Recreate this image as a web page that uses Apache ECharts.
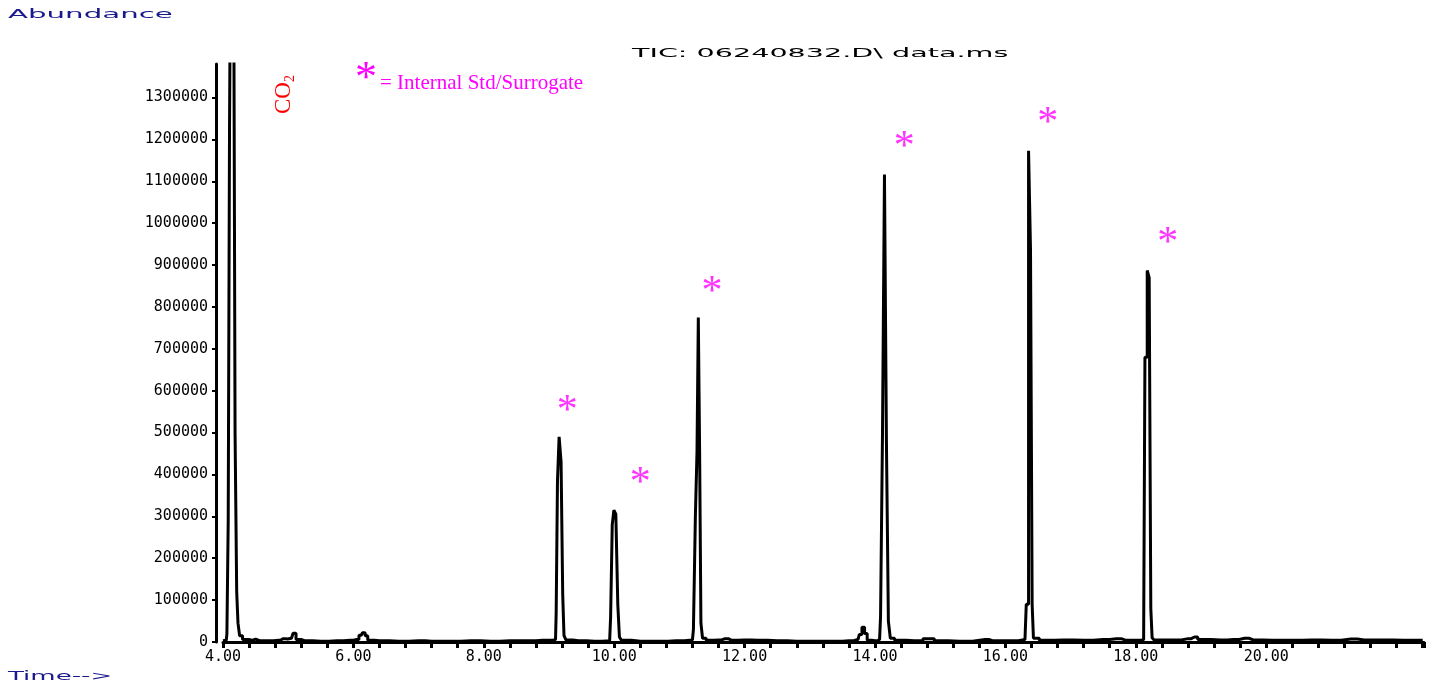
<!DOCTYPE html>
<html>
<head>
<meta charset="utf-8">
<script src="https://cdn.jsdelivr.net/npm/echarts@6/dist/echarts.min.js"></script>
<style>
html, body { margin: 0; padding: 0; background: #fff; }
#chart { width: 1434px; height: 687px; }
</style>
</head>
<body>
<div id="chart"></div>
<script>
// retention time (min) and abundance
var times = [
    4.00, 4.05, 4.07, 4.09, 4.11, 4.14, 4.17, 4.20, 4.22, 4.24, 4.27, 4.33, 4.45, 4.50, 4.56, 4.70,
    4.85, 4.92, 4.99, 5.05, 5.10, 5.14, 5.25, 5.50, 5.75, 5.95, 6.05, 6.12, 6.16, 6.20, 6.24, 6.40,
    6.70, 7.00, 7.20, 7.50, 7.80, 8.10, 8.40, 8.70, 8.90,
    9.06, 9.10, 9.12, 9.14, 9.17, 9.20, 9.22, 9.24, 9.28, 9.45, 9.70,
    9.93, 9.96, 9.98, 10.01, 10.04, 10.07, 10.09, 10.13, 10.40, 10.70, 10.95,
    11.20, 11.23, 11.26, 11.28, 11.30, 11.32, 11.34, 11.37, 11.45, 11.60, 11.70, 11.80, 12.00,
    12.20, 12.50, 12.80, 13.10, 13.40, 13.60, 13.74, 13.78, 13.82, 13.86, 13.90, 14.00,
    14.07, 14.10, 14.13, 14.16, 14.19, 14.22, 14.25, 14.35, 14.60, 14.87, 14.95, 15.30, 15.69, 15.80,
    16.10, 16.30, 16.34, 16.37, 16.40, 16.42, 16.44, 16.60, 16.90, 17.20, 17.50, 17.70, 17.85,
    18.05, 18.12, 18.16, 18.19, 18.22, 18.24, 18.26, 18.30, 18.60, 18.80, 18.90, 19.00, 19.30,
    19.50, 19.67, 19.80, 20.10, 20.40, 20.70, 21.00, 21.30, 21.50, 21.80, 22.10, 22.40
];
var abundance = [
    3000, 4000, 20000, 290000, 1230000, 1900000, 2100000, 500000, 120000, 45000, 15000, 6000, 4000, 7000, 3000, 3000,
    4000, 8000, 7000, 9000, 21000, 6000, 3000, 2000, 3000, 4000, 6000, 16000, 22000, 15000, 4000, 3000,
    2000, 3000, 2000, 2000, 3000, 2000, 3000, 3000, 4000,
    4000, 6000, 70000, 385000, 490000, 430000, 115000, 15000, 5000, 3000, 2000,
    3000, 60000, 280000, 315000, 305000, 90000, 12000, 4000, 2000, 2000, 3000,
    5000, 30000, 300000, 455000, 775000, 455000, 45000, 9000, 4000, 5000, 8000, 4000, 5000,
    4000, 3000, 2000, 2000, 2000, 3000, 6000, 18000, 35000, 20000, 4000, 3000,
    6000, 60000, 500000, 1116000, 480000, 50000, 9000, 4000, 3000, 8000, 3000, 2000, 6000, 3000,
    3000, 6000, 90000, 1173000, 935000, 90000, 9000, 4000, 5000, 4000, 6000, 8000, 4000,
    4000, 6000, 680000, 887000, 870000, 80000, 10000, 5000, 5000, 8000, 12000, 6000, 5000,
    6000, 9000, 5000, 4000, 4000, 5000, 4000, 7000, 5000, 5000, 4000, 4000
];
// internal standard / surrogate asterisks [time, abundance]
var istdMarks = [
    [9.28, 568000], [10.40, 396000], [11.50, 852000],
    [14.45, 1198000], [16.65, 1256000], [18.49, 969000]
];
var yTicks = [0, 100000, 200000, 300000, 400000, 500000, 600000, 700000,
    800000, 900000, 1000000, 1100000, 1200000, 1300000];

var traceData = times.map(function (t, i) { return [t, abundance[i]]; });

var axisFont = 'DejaVu Sans Mono';
var chart = echarts.init(document.getElementById('chart'));
chart.setOption({
    animation: false,
    grid: {
        left: 223,
        right: 10,
        top: 64,
        bottom: 45
    },
    xAxis: {
        type: 'value',
        min: 4,
        max: 22.42,
        interval: 2,
        axisLine: { lineStyle: { color: '#000', width: 3 } },
        axisTick: { show: true, inside: false, length: 6, lineStyle: { color: '#000', width: 3 } },
        minorTick: { show: true, splitNumber: 5, length: 6, lineStyle: { color: '#000', width: 3 } },
        splitLine: { show: false },
        axisLabel: {
            color: '#000',
            fontFamily: axisFont,
            fontSize: 15,
            margin: 8,
            showMaxLabel: false,
            formatter: function (v) { return v > 21 ? '' : v.toFixed(2); }
        }
    },
    yAxis: {
        type: 'value',
        min: 0,
        max: 1380000,
        interval: 100000,
        offset: 7,
        axisLine: { show: true, lineStyle: { color: '#000', width: 3 } },
        axisTick: { show: true, inside: false, length: 4, lineStyle: { color: '#000', width: 2 } },
        splitLine: { show: false },
        axisLabel: {
            color: '#000',
            fontFamily: axisFont,
            fontSize: 15,
            margin: 8,
            showMaxLabel: false,
            formatter: function (v) { return yTicks.indexOf(v) >= 0 ? String(v) : ''; }
        }
    },
    series: [
        {
            name: 'TIC',
            type: 'line',
            step: 'middle',
            showSymbol: false,
            clip: true,
            lineStyle: { color: '#000', width: 3 },
            data: traceData
        },
        {
            name: 'Internal Std/Surrogate',
            type: 'scatter',
            symbolSize: 1,
            itemStyle: { color: 'rgba(0,0,0,0)' },
            label: {
                show: true,
                position: 'inside',
                formatter: '*',
                fontFamily: 'Liberation Serif',
                fontSize: 42,
                color: '#ff00ff',
                offset: [0, 8]
            },
            data: istdMarks
        }
    ],
    graphic: [
        {
            type: 'text',
            x: 8, y: 8,
            scaleX: 2.25,
            style: { text: 'Abundance', fontFamily: 'DejaVu Sans', fontSize: 13, fill: '#1a1a8c' }
        },
        {
            type: 'text',
            x: 8, y: 670,
            scaleX: 2.0,
            style: { text: 'Time-->', fontFamily: 'DejaVu Sans', fontSize: 13, fill: '#1a1a8c' }
        },
        {
            type: 'text',
            x: 632, y: 47,
            scaleX: 2.2,
            style: { text: 'TIC: 06240832.D\\ data.ms', fontFamily: 'DejaVu Sans', fontSize: 13, fill: '#000' }
        },
        {
            type: 'text',
            x: 271, y: 114,
            rotation: Math.PI / 2,
            style: {
                text: '{a|CO}{b|2}',
                rich: {
                    a: { fontFamily: 'Liberation Serif', fontSize: 23, fill: '#ff0000' },
                    b: { fontFamily: 'Liberation Serif', fontSize: 14, fill: '#ff0000', padding: [12, 0, 0, 0] }
                }
            }
        },
        {
            type: 'text',
            x: 355, y: 57,
            style: { text: '*', fontFamily: 'Liberation Serif', fontSize: 44, fill: '#ff00ff' }
        },
        {
            type: 'text',
            x: 380, y: 73,
            style: { text: '= Internal Std/Surrogate', fontFamily: 'Liberation Serif', fontSize: 21, fill: '#ff00ff' }
        }
    ]
});
</script>
</body>
</html>
